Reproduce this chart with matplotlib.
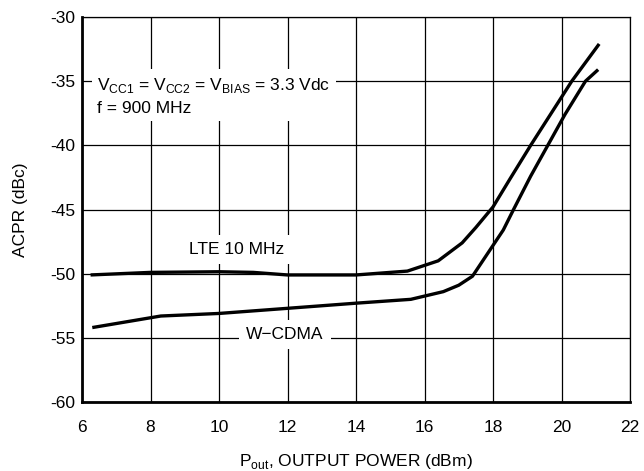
import numpy as np
import matplotlib.pyplot as plt

plt.rcParams['font.family'] = ['Liberation Sans', 'DejaVu Sans']
plt.rcParams['mathtext.fontset'] = 'custom'
plt.rcParams['mathtext.rm'] = 'Liberation Sans'
plt.rcParams['axes.unicode_minus'] = False

# LTE 10 MHz curve
lte_x = [6.25, 8.0, 10.0, 11.0, 12.0, 14.0, 15.5, 16.4, 17.1, 17.5, 18.0, 18.5, 19.1, 19.7, 20.3, 21.1]
lte_y = [-50.1, -49.9, -49.85, -49.9, -50.1, -50.1, -49.8, -49.0, -47.6, -46.4, -44.8, -42.6, -40.0, -37.5, -35.0, -32.1]

# W-CDMA curve
wcdma_x = [6.3, 8.3, 10.0, 12.0, 14.0, 15.6, 16.55, 17.0, 17.4, 17.8, 18.3, 18.6, 19.1, 19.6, 20.1, 20.7, 21.07]
wcdma_y = [-54.2, -53.3, -53.1, -52.7, -52.3, -52.0, -51.4, -50.9, -50.2, -48.6, -46.6, -45.0, -42.4, -40.0, -37.6, -35.0, -34.1]

xticks = [6, 8, 10, 12, 14, 16, 18, 20, 22]
yticks = [-60, -55, -50, -45, -40, -35, -30]

fs = 12.5

fig = plt.figure(figsize=(6.44, 4.71), dpi=100)
ax = fig.add_axes([82 / 644, 1 - 402 / 471, 548 / 644, 385 / 471])

ax.plot(lte_x, lte_y, color='black', lw=2.4, solid_capstyle='butt', zorder=3)
ax.plot(wcdma_x, wcdma_y, color='black', lw=2.4, solid_capstyle='butt', zorder=3)

ax.set_xlim(6, 22)
ax.set_ylim(-60, -30)
ax.set_xticks(xticks)
ax.set_yticks(yticks)
ax.set_xticklabels([str(t) for t in xticks])
ax.set_yticklabels([str(t) for t in yticks])
ax.tick_params(length=0, labelsize=fs)
ax.tick_params(axis='x', pad=13)
ax.tick_params(axis='y', pad=5)
ax.grid(True, color='black', lw=0.9)
ax.set_axisbelow(True)

for s in ['top', 'right']:
    ax.spines[s].set_linewidth(0.9)
for s in ['left', 'bottom']:
    ax.spines[s].set_linewidth(2.0)

box = dict(facecolor='white', edgecolor='none', pad=5)
ax.text(6.45, -36.15, r'V$_{\mathregular{CC1}}$ = V$_{\mathregular{CC2}}$ = V$_{\mathregular{BIAS}}$ = 3.3 Vdc' + '\nf = 900 MHz',
        fontsize=fs, va='center', ha='left', linespacing=1.45,
        bbox=dict(facecolor='white', edgecolor='none', pad=4), zorder=2)
ax.text(10.52, -48.1, 'LTE 10 MHz', fontsize=fs, ha='center', va='center', bbox=box, zorder=2)
ax.text(11.93, -54.75, 'W\u2212CDMA', fontsize=fs, ha='center', va='center', bbox=box, zorder=2)

ax.set_xlabel(r'P$_{\mathregular{out}}$, OUTPUT POWER (dBm)', fontsize=fs, labelpad=12)
ax.set_ylabel('ACPR (dBc)', fontsize=fs, labelpad=16)

fig.savefig('out.png', dpi=100)
